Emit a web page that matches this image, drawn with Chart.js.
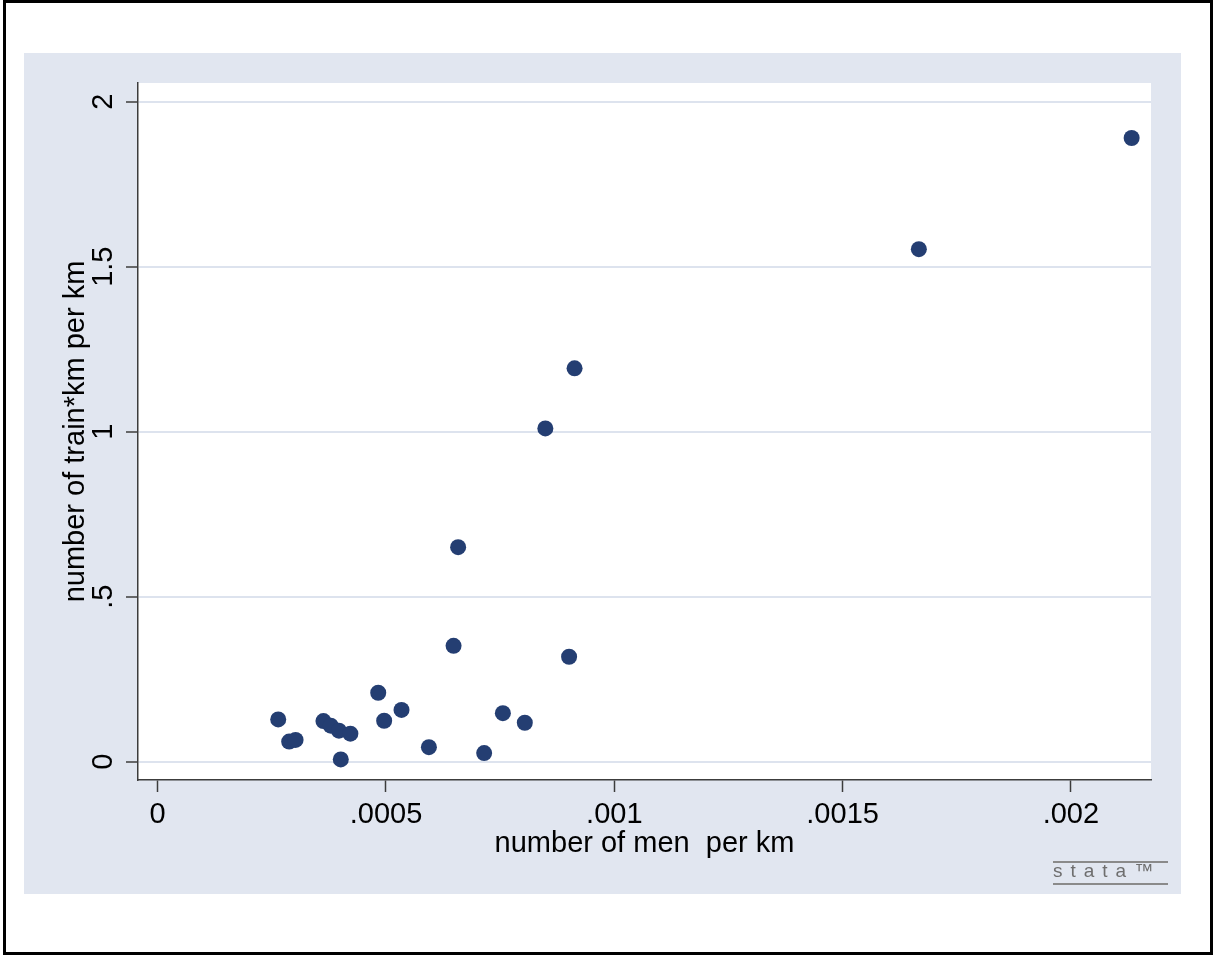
<!DOCTYPE html>
<html>
<head>
<meta charset="utf-8">
<script src="https://cdn.jsdelivr.net/npm/chart.js@4.4.1/dist/chart.umd.min.js"></script>
<style>
  html, body { margin: 0; padding: 0; background: #fff; }
  canvas { display: block; }
</style>
</head>
<body>
<canvas id="myChart" width="1214" height="956"></canvas>
<script>
// number of men per km (x) vs number of train*km per km (y)
const menPerKm = [0.002133, 0.001667, 0.000913, 0.000849, 0.000658, 0.000648, 0.000901,
  0.000264, 0.000288, 0.000302, 0.000363, 0.000379, 0.000397, 0.000422, 0.000401,
  0.000483, 0.000496, 0.000534, 0.000594, 0.000715, 0.000756, 0.000804];
const trainKmPerKm = [1.890, 1.553, 1.192, 1.010, 0.650, 0.351, 0.318,
  0.128, 0.061, 0.066, 0.123, 0.109, 0.094, 0.085, 0.007,
  0.209, 0.124, 0.157, 0.044, 0.026, 0.147, 0.118];

const xTicks = [0, 0.0005, 0.001, 0.0015, 0.002];
const xTickLabels = ['0', '.0005', '.001', '.0015', '.002'];
const yTicks = [0, 0.5, 1, 1.5, 2];
const yTickLabels = ['0', '.5', '1', '1.5', '2'];

const xTitle = 'number of men  per km';
const yTitle = 'number of train*km per km';

const FONT = '"Liberation Sans", Arial, sans-serif';
const panelColor = '#e1e6f0';
const gridColor = '#dde3ee';
const axisColor = '#3c3c3c';
const dotColor = '#243e72';

let points = [];
for (let i = 0; i < menPerKm.length; i++) {
  points.push({ x: menPerKm[i], y: trainKmPerKm[i] });
}

// background panel, plot area, outer frame and the stata mark
const stataBackground = {
  id: 'stataBackground',
  beforeDraw(chart) {
    const ctx = chart.ctx;
    const a = chart.chartArea;
    ctx.save();
    ctx.fillStyle = '#ffffff';
    ctx.fillRect(0, 0, chart.width, chart.height);
    ctx.fillStyle = panelColor;
    ctx.fillRect(24, 53, 1181 - 24, 894 - 53);
    ctx.fillStyle = '#ffffff';
    ctx.fillRect(a.left, a.top, a.right - a.left, a.bottom - a.top);
    ctx.restore();
  },
  afterDraw(chart) {
    const ctx = chart.ctx;
    const ys = chart.scales.y;
    ctx.save();
    // rotated y tick labels, like stata
    ctx.fillStyle = '#000';
    ctx.font = '29px ' + FONT;
    ctx.textAlign = 'center';
    ctx.textBaseline = 'middle';
    yTicks.forEach((v, i) => {
      const py = ys.getPixelForValue(v);
      ctx.save();
      ctx.translate(104, py);
      ctx.rotate(-Math.PI / 2);
      ctx.fillText(yTickLabels[i], 0, 0);
      ctx.restore();
    });
    // outer frame
    ctx.strokeStyle = '#000';
    ctx.lineWidth = 3;
    ctx.strokeRect(4.5, 1.5, 1207, 952);
    // stata logo
    ctx.strokeStyle = '#8a8a8a';
    ctx.lineWidth = 2;
    ctx.beginPath();
    ctx.moveTo(1053, 862); ctx.lineTo(1168, 862);
    ctx.moveTo(1053, 884); ctx.lineTo(1168, 884);
    ctx.stroke();
    ctx.fillStyle = '#6e6e6e';
    ctx.font = '19px ' + FONT;
    ctx.textAlign = 'left';
    ctx.textBaseline = 'middle';
    if ('letterSpacing' in ctx) ctx.letterSpacing = '8px';
    ctx.fillText('stata\u2122', 1053, 872);
    ctx.restore();
  }
};

const ctx = document.getElementById('myChart').getContext('2d');
const myChart = new Chart(ctx, {
  type: 'scatter',
  data: {
    datasets: [{
      label: 'train*km',
      data: points,
      pointRadius: 8,
      pointHoverRadius: 8,
      pointBackgroundColor: dotColor,
      pointBorderColor: dotColor,
      pointBorderWidth: 0
    }]
  },
  options: {
    responsive: false,
    animation: false,
    devicePixelRatio: 1,
    layout: { padding: { top: 83, right: 63, left: 0, bottom: 0 } },
    plugins: {
      legend: { display: false },
      tooltip: { enabled: false }
    },
    scales: {
      x: {
        type: 'linear',
        min: -0.0000431,
        max: 0.0021754,
        afterBuildTicks: (scale) => { scale.ticks = xTicks.map(v => ({ value: v })); },
        afterFit: (scale) => { scale.height = 176; },
        ticks: {
          color: '#000',
          font: { family: FONT, size: 29 },
          padding: 6,
          maxRotation: 0,
          autoSkip: false,
          callback: (v) => {
            const i = xTicks.indexOf(v);
            return i >= 0 ? xTickLabels[i] : '';
          }
        },
        grid: {
          drawOnChartArea: false,
          tickColor: axisColor,
          tickLength: 12,
          tickWidth: 1.5
        },
        border: { display: true, color: axisColor, width: 1.5 },
        title: {
          display: true,
          text: xTitle,
          color: '#000',
          font: { family: FONT, size: 29 },
          padding: { top: 0, bottom: 95 }
        }
      },
      y: {
        type: 'linear',
        min: -0.0555,
        max: 2.0567,
        afterBuildTicks: (scale) => { scale.ticks = yTicks.map(v => ({ value: v })); },
        afterFit: (scale) => { scale.width = 138; },
        ticks: { display: false },
        grid: {
          color: gridColor,
          lineWidth: 2,
          tickColor: axisColor,
          tickLength: 12,
          tickWidth: 1.5
        },
        border: { display: true, color: axisColor, width: 1.5 },
        title: {
          display: true,
          text: yTitle,
          color: '#000',
          font: { family: FONT, size: 29 },
          padding: { top: 59, bottom: 0 }
        }
      }
    }
  },
  plugins: [stataBackground]
});
</script>
</body>
</html>
